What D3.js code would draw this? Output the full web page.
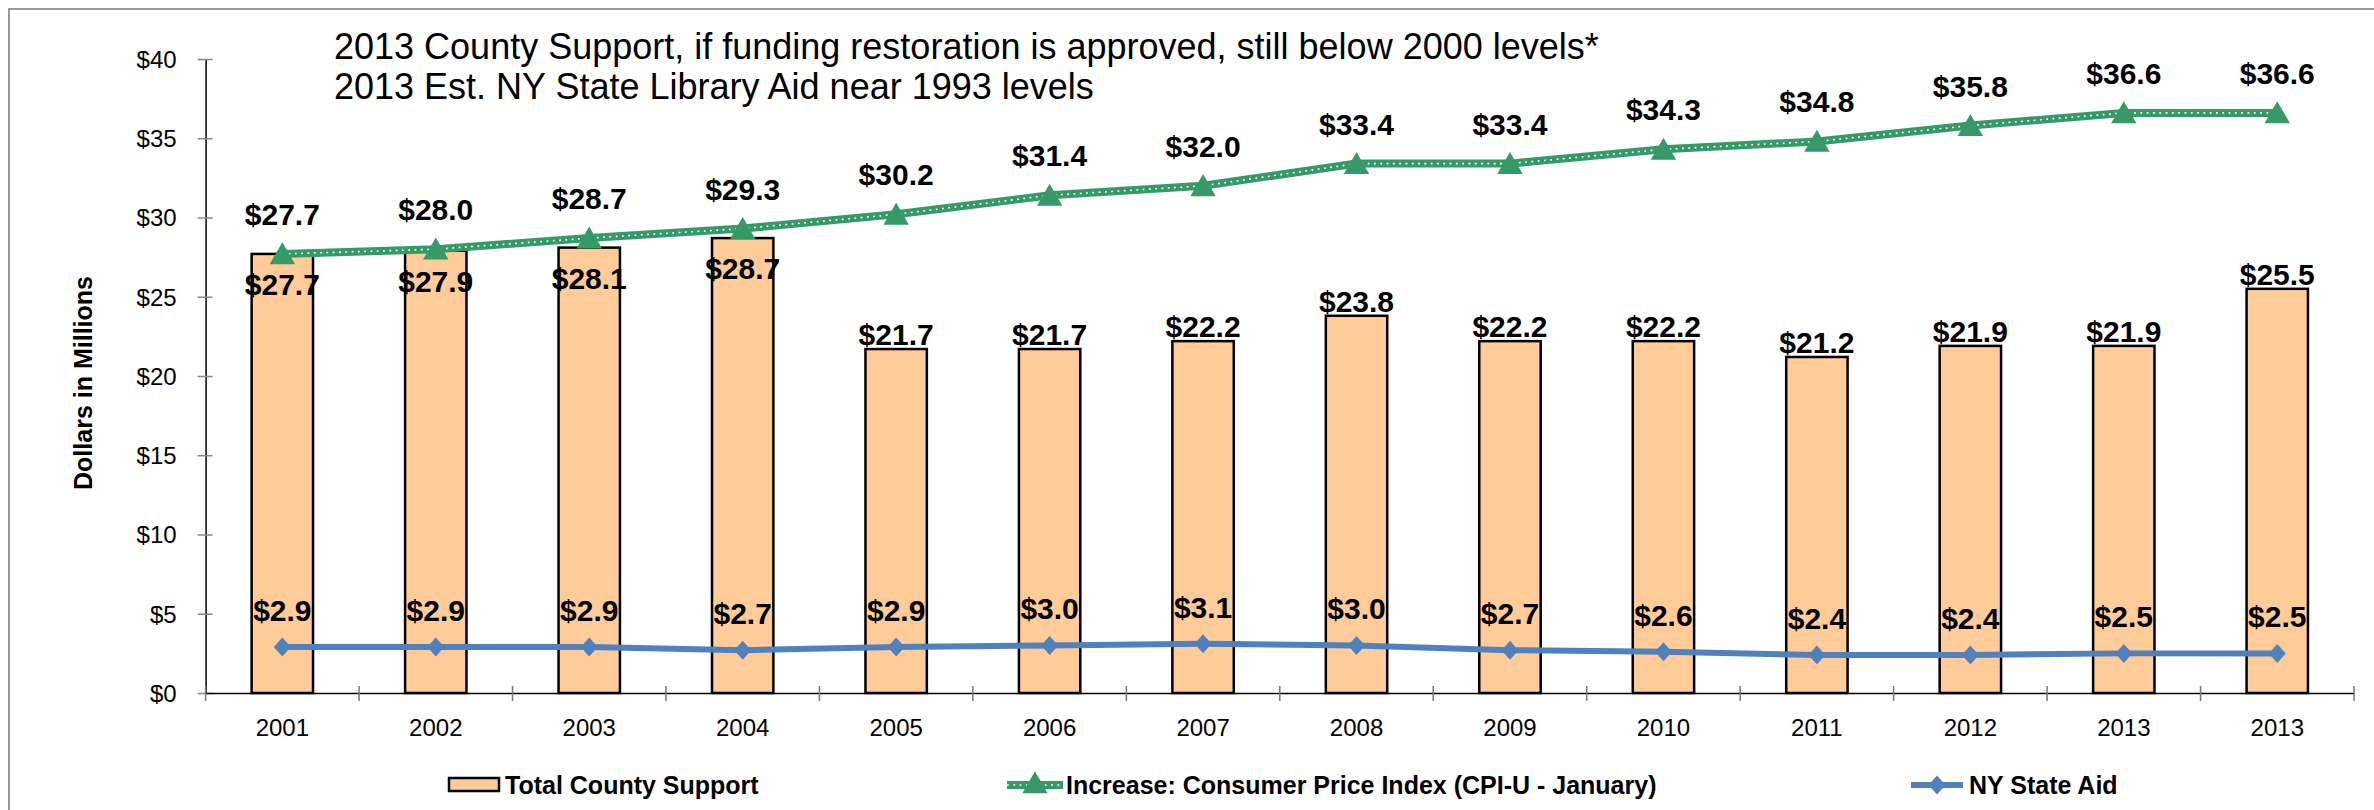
<!DOCTYPE html>
<html>
<head>
<meta charset="utf-8">
<script src="https://cdn.jsdelivr.net/npm/d3@7"></script>
<style>
  body { margin: 0; background: #fff; }
  svg { display: block; font-family: "Liberation Sans", Arial, sans-serif; }
  .tick-label { font-size: 24px; fill: #000; }
  .data-label { font-size: 30px; font-weight: bold; fill: #000; text-anchor: middle; }
  .legend-text { font-size: 25px; font-weight: bold; fill: #000; }
</style>
</head>
<body>
<svg class="chart" width="2374" height="810"></svg>
<script>
const years = ['2001', '2002', '2003', '2004', '2005', '2006', '2007', '2008', '2009', '2010', '2011', '2012', '2013', '2013'];
const countySupport = [27.7, 27.9, 28.1, 28.7, 21.7, 21.7, 22.2, 23.8, 22.2, 22.2, 21.2, 21.9, 21.9, 25.5];
const cpiIncrease = [27.7, 28.0, 28.7, 29.3, 30.2, 31.4, 32.0, 33.4, 33.4, 34.3, 34.8, 35.8, 36.6, 36.6];
const stateAid = [2.9, 2.9, 2.9, 2.7, 2.9, 3.0, 3.1, 3.0, 2.7, 2.6, 2.4, 2.4, 2.5, 2.5];
const yTicks = [0, 5, 10, 15, 20, 25, 30, 35, 40];
const titleLines = [
  '2013 County Support, if funding restoration is approved, still below 2000 levels*',
  '2013 Est. NY State Library Aid near 1993 levels',
];
const legendNames = ['Total County Support', 'Increase: Consumer Price Index (CPI-U - January)', 'NY State Aid'];

const BAR_FILL = '#ffcc99';
const CPI_GREEN = '#359a67';
const AID_BLUE = '#4f81bd';

const money = v => `$${v.toFixed(1)}`;

const triangle = d3.symbol().type(d3.symbolTriangle).size(280);
const diamondPath = (w, h) => `M0,${-h / 2}L${w / 2},0L0,${h / 2}L${-w / 2},0Z`;

const drawCpiLine = (g, path) => {
  g.append('path').attr('d', path).attr('fill', 'none')
    .attr('stroke', CPI_GREEN).attr('stroke-width', 8);
  g.append('path').attr('d', path).attr('fill', 'none')
    .attr('stroke', '#fff').attr('stroke-width', 1.6)
    .attr('stroke-dasharray', '1.8,4.5');
};

const startApp = () => {
  const svg = d3.select('.chart');
  const plot = { left: 205.6, right: 2354, top: 59, bottom: 693 };

  // outer chart frame (cut off on the right and bottom in the original)
  svg.append('rect')
    .attr('x', 9).attr('y', 9).attr('width', 2500).attr('height', 1000)
    .attr('fill', 'none').attr('stroke', '#777').attr('stroke-width', 1.5);

  const idx = d3.range(years.length);
  const xBand = d3.scaleBand().domain(idx).range([plot.left, plot.right]);
  const yScale = d3.scaleLinear().domain([0, 40]).range([plot.bottom, plot.top]);
  const cx = i => xBand(i) + xBand.bandwidth() / 2;
  const barWidth = xBand.bandwidth() * 0.4;

  // title
  svg.append('g').selectAll('text')
    .data(titleLines)
    .enter()
    .append('text')
    .attr('x', 334)
    .attr('y', (d, i) => 59 + i * 40)
    .style('font-size', '36px')
    .text(d => d);

  // y axis
  const yAxis = d3.axisLeft(yScale).tickValues(yTicks).tickSize(0).tickPadding(29)
    .tickFormat(d => `$${d}`);
  const yg = svg.append('g').attr('transform', `translate(${plot.left},0)`).call(yAxis);
  yg.select('.domain').attr('stroke', '#000').attr('stroke-width', 1.5);
  yg.selectAll('text').attr('class', 'tick-label').attr('dy', '0.35em');
  yg.selectAll('.tick').append('line')
    .attr('x1', -8).attr('x2', 7).attr('stroke', '#888').attr('stroke-width', 1.5);

  svg.append('text')
    .attr('transform', 'translate(92,383) rotate(-90)')
    .attr('text-anchor', 'middle')
    .style('font-size', '25px').style('font-weight', 'bold')
    .text('Dollars in Millions');

  // bars
  svg.append('g').selectAll('rect')
    .data(countySupport)
    .enter()
    .append('rect')
    .attr('x', (d, i) => cx(i) - barWidth / 2)
    .attr('width', barWidth)
    .attr('y', d => yScale(d))
    .attr('height', d => plot.bottom - yScale(d))
    .attr('fill', BAR_FILL)
    .attr('stroke', '#000')
    .attr('stroke-width', 2.5);

  // x axis
  const xAxis = d3.axisBottom(xBand).tickSize(0).tickPadding(26).tickFormat(i => years[i]);
  const xg = svg.append('g').attr('transform', `translate(0,${plot.bottom})`).call(xAxis);
  xg.select('.domain').attr('stroke', '#000').attr('stroke-width', 1.5);
  xg.selectAll('text').attr('class', 'tick-label');
  svg.append('g').selectAll('line')
    .data(d3.range(years.length + 1))
    .enter()
    .append('line')
    .attr('x1', i => plot.left + i * xBand.bandwidth())
    .attr('x2', i => plot.left + i * xBand.bandwidth())
    .attr('y1', plot.bottom - 7)
    .attr('y2', plot.bottom + 8)
    .attr('stroke', '#777')
    .attr('stroke-width', 1.5);

  // CPI line
  const cpiLine = d3.line().x((d, i) => cx(i)).y(d => yScale(d));
  drawCpiLine(svg.append('g'), cpiLine(cpiIncrease));
  svg.append('g').selectAll('path')
    .data(cpiIncrease)
    .enter()
    .append('path')
    .attr('d', triangle)
    .attr('transform', (d, i) => `translate(${cx(i)},${yScale(d) + 3})`)
    .attr('fill', CPI_GREEN);

  // state aid line
  const aidLine = d3.line().x((d, i) => cx(i)).y(d => yScale(d));
  svg.append('path')
    .attr('d', aidLine(stateAid))
    .attr('fill', 'none')
    .attr('stroke', AID_BLUE)
    .attr('stroke-width', 6);
  svg.append('g').selectAll('path')
    .data(stateAid)
    .enter()
    .append('path')
    .attr('d', diamondPath(17, 19))
    .attr('transform', (d, i) => `translate(${cx(i)},${yScale(d)})`)
    .attr('fill', AID_BLUE);

  // data labels; county labels sit inside the bar when the CPI line runs close above it
  svg.append('g').selectAll('text')
    .data(countySupport)
    .enter()
    .append('text')
    .attr('class', 'data-label')
    .attr('x', (d, i) => cx(i))
    .attr('y', (d, i) => (cpiIncrease[i] - d < 3 ? yScale(d) + 41 : yScale(d) - 4))
    .text(money);

  svg.append('g').selectAll('text')
    .data(cpiIncrease)
    .enter()
    .append('text')
    .attr('class', 'data-label')
    .attr('x', (d, i) => cx(i))
    .attr('y', d => yScale(d) - 29)
    .text(money);

  svg.append('g').selectAll('text')
    .data(stateAid)
    .enter()
    .append('text')
    .attr('class', 'data-label')
    .attr('x', (d, i) => cx(i))
    .attr('y', d => yScale(d) - 26)
    .text(money);

  // legend
  const legend = svg.append('g');
  legend.append('rect')
    .attr('x', 449).attr('y', 778).attr('width', 50).attr('height', 13)
    .attr('fill', BAR_FILL).attr('stroke', '#000').attr('stroke-width', 2.5);
  drawCpiLine(legend, 'M1007,785L1063,785');
  legend.append('path').attr('d', triangle).attr('transform', 'translate(1035,786)').attr('fill', CPI_GREEN);
  legend.append('path').attr('d', 'M1911,785L1963,785').attr('stroke', AID_BLUE).attr('stroke-width', 6);
  legend.append('path').attr('d', diamondPath(17, 19)).attr('transform', 'translate(1937,785)').attr('fill', AID_BLUE);

  legend.selectAll('text')
    .data(legendNames)
    .enter()
    .append('text')
    .attr('class', 'legend-text')
    .attr('x', (d, i) => [505, 1066, 1969][i])
    .attr('y', 794)
    .text(d => d);
};

window.onload = startApp;
</script>
</body>
</html>
